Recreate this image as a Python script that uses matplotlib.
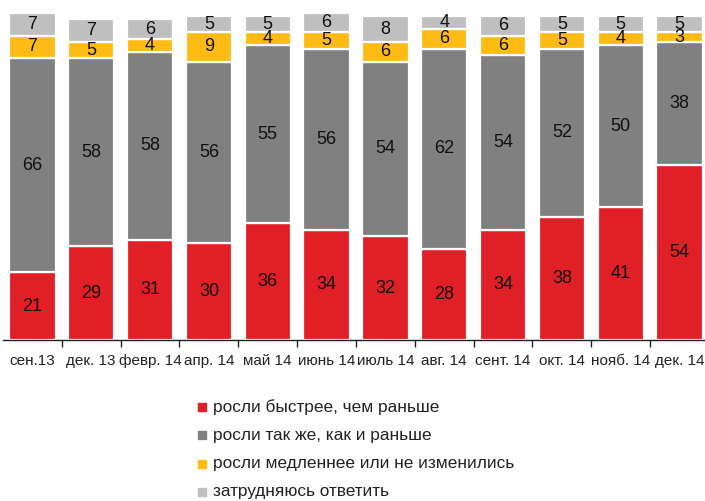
import numpy as np
import matplotlib
matplotlib.use("Agg")
import matplotlib.pyplot as plt
from matplotlib.lines import Line2D

plt.rcParams['font.family'] = ['Liberation Sans', 'DejaVu Sans']

labels = ["сен.13", "дек. 13", "февр. 14", "апр. 14", "май 14", "июнь 14",
          "июль 14", "авг. 14", "сент. 14", "окт. 14", "нояб. 14", "дек. 14"]
faster = [21, 29, 31, 30, 36, 34, 32, 28, 34, 38, 41, 54]
same = [66, 58, 58, 56, 55, 56, 54, 62, 54, 52, 50, 38]
slower = [7, 5, 4, 9, 4, 5, 6, 6, 6, 5, 4, 3]
unsure = [7, 7, 6, 5, 5, 6, 8, 4, 6, 5, 5, 5]

series = [faster, same, slower, unsure]
names = ["росли быстрее, чем раньше", "росли так же, как и раньше",
         "росли медленнее или не изменились", "затрудняюсь ответить"]
COL = ["#E01F26", "#808080", "#FDBB13", "#BFBFBF"]

fig = plt.figure(figsize=(7.05, 5.01), dpi=100)
ax = fig.add_axes([3 / 705, (501 - 340) / 501, 706 / 705, 327 / 501])

x = np.arange(len(labels))
bottom = np.zeros(len(labels))
for vals, c in zip(series, COL):
    v = np.array(vals, dtype=float)
    ax.bar(x, v, 0.79, bottom=bottom, color=c, edgecolor="white", lw=1.6)
    for xi, b, h in zip(x, bottom, v):
        ax.text(xi, b + h / 2, str(int(h)), ha="center", va="center",
                fontsize=13, color="#111111")
    bottom += v

ax.set_xlim(-0.5, 11.5)
ax.set_ylim(0, 101)
ax.set_yticks([])
for s in ["top", "right", "left"]:
    ax.spines[s].set_visible(False)
ax.spines["bottom"].set_color("#222222")
ax.spines["bottom"].set_linewidth(1.0)
ax.set_xticks(x + 0.5)
ax.set_xticklabels([])
ax.tick_params(axis="x", length=5, width=1, color="#222222", direction="out")
for xi, lab in zip(x, labels):
    ax.text(xi, -6.5, lab, ha="center", va="center", fontsize=11,
            color="#222222", clip_on=False)

# legend, placed by hand as in the original
for i, (name, c) in enumerate(zip(names, COL)):
    yy = 1 - (407 + 28.3 * i) / 501
    fig.add_artist(Line2D([202 / 705], [yy], ls="none", marker="s", ms=6,
                          color=c, transform=fig.transFigure))
    fig.text(213 / 705, yy, name, ha="left", va="center", fontsize=12.4,
             color="#222222")

fig.savefig("out.png", dpi=100)
